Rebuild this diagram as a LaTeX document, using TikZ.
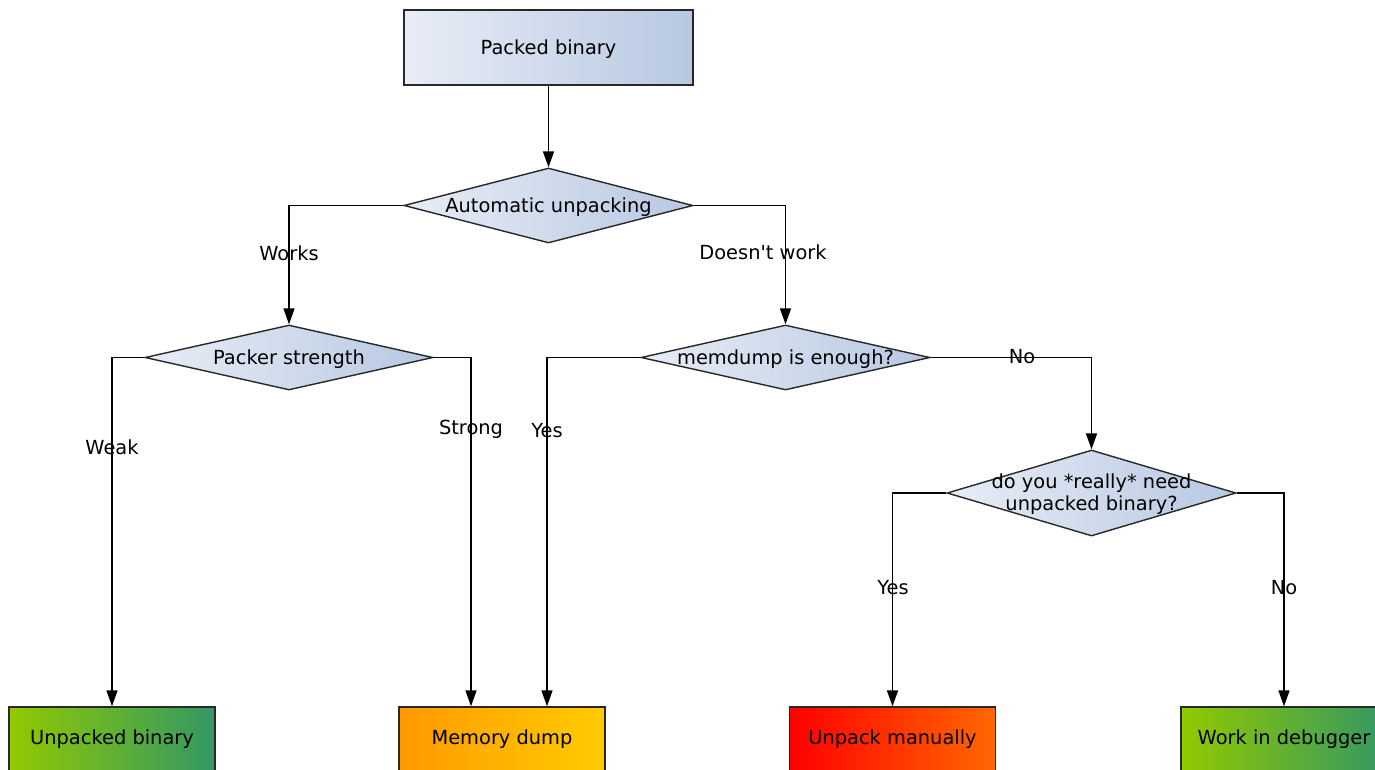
\documentclass[tikz,border=0pt]{standalone}
\usepackage{fontspec}
\setmainfont{DejaVu Sans}
\usetikzlibrary{shapes.geometric,arrows.meta}

\definecolor{boxline}{RGB}{40,40,40}
\definecolor{blueL}{RGB}{232,237,246}
\definecolor{blueR}{RGB}{183,200,226}
\definecolor{greenL}{RGB}{146,201,0}
\definecolor{greenR}{RGB}{50,152,100}
\definecolor{orangeL}{RGB}{255,153,0}
\definecolor{orangeR}{RGB}{255,204,0}
\definecolor{redL}{RGB}{255,0,0}
\definecolor{redR}{RGB}{255,104,0}

\begin{document}
\begin{tikzpicture}[x=1pt,y=-1pt,
  font=\fontsize{19.4}{22}\selectfont,
  start/.style={draw=boxline, line width=1.4pt, rectangle,
    minimum width=289pt, minimum height=75pt, inner sep=0pt,
    left color=blueL, right color=blueR},
  decision/.style={draw=boxline, line width=1.4pt, diamond, inner sep=0pt,
    left color=blueL, right color=blueR},
  outcome/.style={draw=boxline, line width=1.4pt, rectangle,
    minimum width=206pt, minimum height=64pt, inner sep=0pt},
  flow/.style={line width=1.6pt, -{Triangle[length=16pt,width=11pt]}},
  lbl/.style={inner sep=0pt, text height=1.45ex, text depth=0.35ex, yshift=-3pt},
  dtext/.style={align=center, inner sep=0pt, yshift=-1.5pt}
]
\clip (0,0) rectangle (1375,769);
\fill[white] (0,0) rectangle (1375,769);

% start box
\node[start] (packed) at (548.5,47.5) {};
\node[dtext] at (packed.center) {Packed binary};

% decisions
\node[decision, minimum width=289pt, minimum height=75pt] (auto) at (548.5,205.5) {};
\node[dtext] at (auto.center) {Automatic unpacking};

\node[decision, minimum width=288pt, minimum height=65pt] (packer) at (289,357.5) {};
\node[dtext] at (packer.center) {Packer strength};

\node[decision, minimum width=289pt, minimum height=65pt] (memdump) at (785.5,357.5) {};
\node[dtext] at (memdump.center) {memdump is enough?};

\node[decision, minimum width=289pt, minimum height=86pt] (really) at (1091.5,493) {};
\node[dtext] at (really.center) {do you *really* need\\unpacked binary?};

% outcomes
\node[outcome, left color=greenL, right color=greenR] (unpacked) at (112,739) {Unpacked binary};
\node[outcome, left color=orangeL, right color=orangeR] (dump) at (502,739) {Memory dump};
\node[outcome, left color=redL, right color=redR] (manual) at (892.5,739) {Unpack manually};
\node[outcome, left color=greenL, right color=greenR] (debugger) at (1284,739) {Work in debugger};

% two entry points on the top of the memory dump box
\coordinate (dumpInA) at ([xshift=-31pt]dump.north);
\coordinate (dumpInB) at ([xshift=45pt]dump.north);

% connectors
\draw[flow] (packed.south) -- (auto.north);
\draw[flow] (auto.west) -| (packer.north);
\draw[flow] (auto.east) -| (memdump.north);
\draw[flow] (packer.west) -| (unpacked.north);
\draw[flow] (packer.east) -| (dumpInA);
\draw[flow] (memdump.west) -| (dumpInB);
\draw[flow] (memdump.east) -| (really.north);
\draw[flow] (really.west) -| (manual.north);
\draw[flow] (really.east) -| (debugger.north);

% branch labels
\node[lbl] at (289,254) {Works};
\node[lbl] at (763,253) {Doesn\textquotesingle t work};
\node[lbl] at (112,448) {Weak};
\node[lbl] at (471,428) {Strong};
\node[lbl] at (547,431) {Yes};
\node[lbl] at (1022,357) {No};
\node[lbl] at (893,588) {Yes};
\node[lbl] at (1284,588) {No};
\end{tikzpicture}
\end{document}
